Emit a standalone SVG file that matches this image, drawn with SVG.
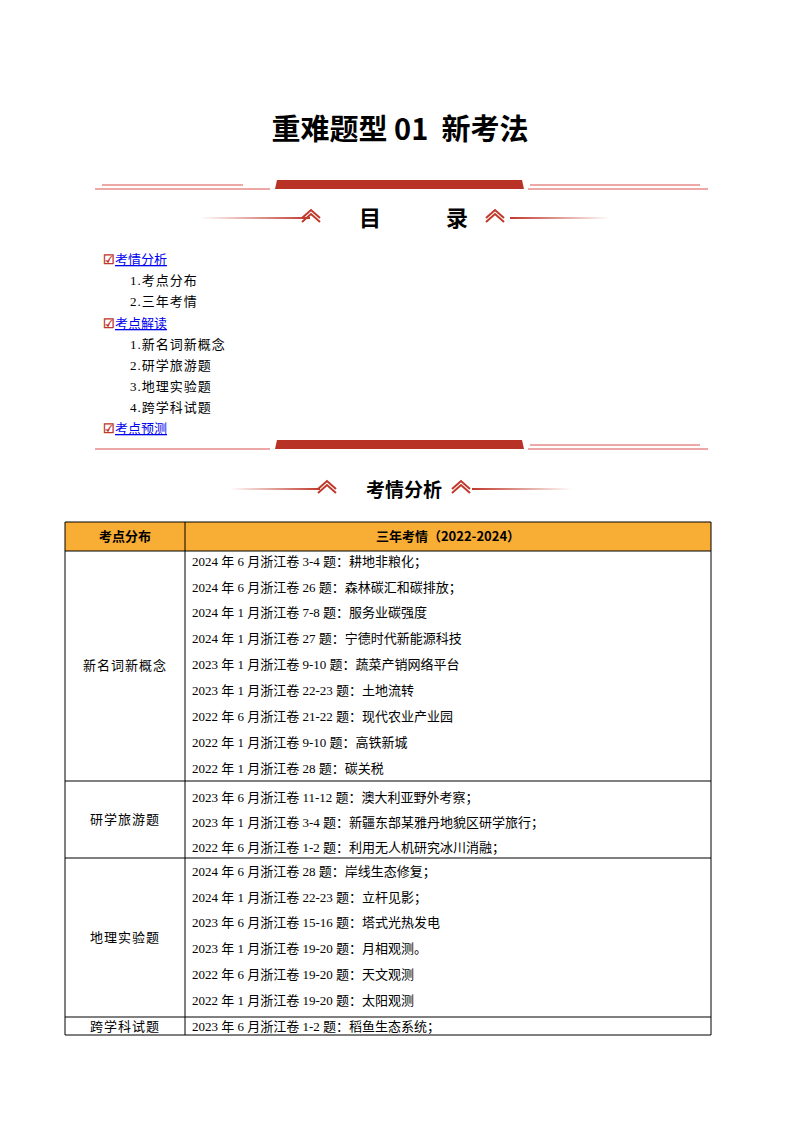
<svg xmlns="http://www.w3.org/2000/svg" width="800" height="1132" viewBox="0 0 800 1132">
<defs>
<linearGradient id="gl" x1="0" x2="1"><stop offset="0" stop-color="#c0392b" stop-opacity="0"/><stop offset="1" stop-color="#c0392b"/></linearGradient>
<linearGradient id="gr" x1="0" x2="1"><stop offset="0" stop-color="#c0392b"/><stop offset="1" stop-color="#c0392b" stop-opacity="0"/></linearGradient>
<g id="zz"><path d="M0 8 L9 0 L18 8 M0 12 L9 4 L18 12" fill="none" stroke="#c0392b" stroke-width="2"/></g>
</defs>
<style>
.s{font-family:"Liberation Serif","Noto Sans CJK SC",serif;font-size:13px;fill:#000}
.k{font-family:"Noto Sans CJK SC",sans-serif;font-weight:bold;fill:#000}
.l{font-family:"Noto Sans CJK SC",sans-serif;font-size:13px;fill:#0000ee;text-decoration:underline}
.c{font-family:"Noto Sans CJK SC",sans-serif;font-size:13px;fill:#c0392b;font-weight:bold}
.g{stroke:#000;stroke-width:1;fill:none}
</style>
<rect width="800" height="1132" fill="#fff"/>
<text x="400" y="140" text-anchor="middle" class="k" font-size="29" xml:space="preserve">重难题型 01  新考法</text>
<g id="hdr1">
<path d="M277 180 L522 180 L524 189 L275 189 Z" fill="#b83226"/>
<line x1="102" y1="185" x2="243" y2="185" stroke="#d9534f"/><line x1="95" y1="189" x2="270" y2="189" stroke="#d9534f"/>
<line x1="530" y1="185" x2="700" y2="185" stroke="#d9534f"/><line x1="528" y1="189" x2="708" y2="189" stroke="#d9534f"/>
<rect x="200" y="217" width="110" height="2" fill="url(#gl)"/><use href="#zz" x="302" y="210"/>
<text x="370" y="226" text-anchor="middle" class="k" font-size="22">目</text>
<text x="457" y="226" text-anchor="middle" class="k" font-size="22">录</text>
<use href="#zz" x="486" y="210"/><rect x="510" y="217" width="100" height="2" fill="url(#gr)"/>
</g>
<g id="toc">
<text x="103" y="264" class="c">☑</text><text x="115" y="264" class="l">考情分析</text>
<text x="130" y="285" class="s" letter-spacing="1">1.考点分布</text>
<text x="130" y="306" class="s" letter-spacing="1">2.三年考情</text>
<text x="103" y="328" class="c">☑</text><text x="115" y="328" class="l">考点解读</text>
<text x="130" y="349" class="s" letter-spacing="1">1.新名词新概念</text>
<text x="130" y="370" class="s" letter-spacing="1">2.研学旅游题</text>
<text x="130" y="391" class="s" letter-spacing="1">3.地理实验题</text>
<text x="130" y="412" class="s" letter-spacing="1">4.跨学科试题</text>
<text x="103" y="433" class="c">☑</text><text x="115" y="433" class="l">考点预测</text>
</g>
<g id="hdr2">
<path d="M277 440 L522 440 L524 449 L275 449 Z" fill="#b83226"/>
<line x1="95" y1="449" x2="270" y2="449" stroke="#d9534f"/>
<line x1="530" y1="445" x2="700" y2="445" stroke="#d9534f"/><line x1="528" y1="449" x2="708" y2="449" stroke="#d9534f"/>
<rect x="230" y="488" width="90" height="2" fill="url(#gl)"/><use href="#zz" x="318" y="481"/>
<text x="404" y="497" text-anchor="middle" class="k" font-size="19">考情分析</text>
<use href="#zz" x="452" y="481"/><rect x="472" y="488" width="100" height="2" fill="url(#gr)"/>
</g>
<g id="table">
<rect x="65" y="522" width="646" height="29" fill="#f8ad34"/>
<text x="125" y="541" text-anchor="middle" class="k" font-size="13">考点分布</text>
<text x="448" y="541" text-anchor="middle" class="k" font-size="13">三年考情（2022-2024）</text>
<path class="g" d="M65 522 H711 V1035 H65 Z M185 522 V1035 M65 551 H711 M65 781 H711 M65 858 H711 M65 1017 H711"/>
<g class="s">
<text x="125" y="670" text-anchor="middle" letter-spacing="1">新名词新概念</text>
<text x="125" y="824" text-anchor="middle" letter-spacing="1">研学旅游题</text>
<text x="125" y="942" text-anchor="middle" letter-spacing="1">地理实验题</text>
<text x="125" y="1031" text-anchor="middle" letter-spacing="1">跨学科试题</text>
<text x="192" y="566">2024 年 6 月浙江卷 3-4 题：耕地非粮化；</text>
<text x="192" y="592">2024 年 6 月浙江卷 26 题：森林碳汇和碳排放；</text>
<text x="192" y="617">2024 年 1 月浙江卷 7-8 题：服务业碳强度</text>
<text x="192" y="643">2024 年 1 月浙江卷 27 题：宁德时代新能源科技</text>
<text x="192" y="669">2023 年 1 月浙江卷 9-10 题：蔬菜产销网络平台</text>
<text x="192" y="695">2023 年 1 月浙江卷 22-23 题：土地流转</text>
<text x="192" y="721">2022 年 6 月浙江卷 21-22 题：现代农业产业园</text>
<text x="192" y="747">2022 年 1 月浙江卷 9-10 题：高铁新城</text>
<text x="192" y="773">2022 年 1 月浙江卷 28 题：碳关税</text>
<text x="192" y="802">2023 年 6 月浙江卷 11-12 题：澳大利亚野外考察；</text>
<text x="192" y="827">2023 年 1 月浙江卷 3-4 题：新疆东部某雅丹地貌区研学旅行；</text>
<text x="192" y="852">2022 年 6 月浙江卷 1-2 题：利用无人机研究冰川消融；</text>
<text x="192" y="876">2024 年 6 月浙江卷 28 题：岸线生态修复；</text>
<text x="192" y="902">2024 年 1 月浙江卷 22-23 题：立杆见影；</text>
<text x="192" y="927">2023 年 6 月浙江卷 15-16 题：塔式光热发电</text>
<text x="192" y="953">2023 年 1 月浙江卷 19-20 题：月相观测。</text>
<text x="192" y="979">2022 年 6 月浙江卷 19-20 题：天文观测</text>
<text x="192" y="1005">2022 年 1 月浙江卷 19-20 题：太阳观测</text>
<text x="192" y="1031">2023 年 6 月浙江卷 1-2 题：稻鱼生态系统；</text>
</g>
</g>
</svg>
